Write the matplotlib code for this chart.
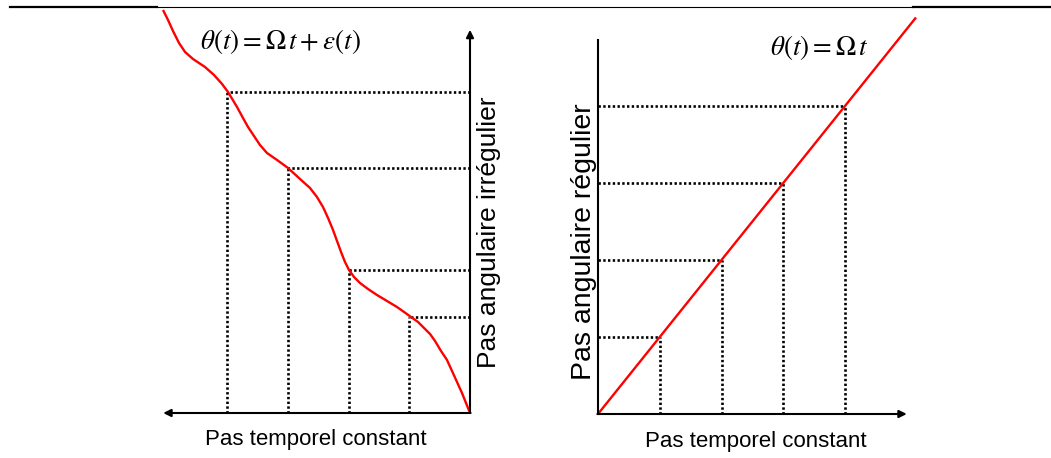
import numpy as np
import matplotlib.pyplot as plt
from matplotlib.lines import Line2D

W, H = 1051, 458

# courbe irreguliere (gauche) : pas temporel t, angle theta
t_irr = [0.0, 0.066, 0.132, 0.214, 0.296, 0.379, 0.477, 0.576, 0.658, 0.757,
         0.856, 0.971, 1.086, 1.202, 1.366, 1.531, 1.679, 1.811, 1.909, 1.992,
         2.058, 2.123, 2.189, 2.255, 2.337, 2.420, 2.519, 2.634, 2.798, 2.996,
         3.177, 3.342, 3.457, 3.556, 3.654, 3.737, 3.835, 3.934, 3.984, 4.082,
         4.214, 4.362, 4.560, 4.691, 4.790, 4.889, 4.971, 5.053]
theta_irr = [0.0, 0.125, 0.25, 0.388, 0.525, 0.663, 0.775, 0.90, 0.988, 1.063,
             1.138, 1.20, 1.263, 1.325, 1.40, 1.475, 1.55, 1.625, 1.70, 1.788,
             1.888, 2.013, 2.15, 2.288, 2.438, 2.575, 2.70, 2.813, 2.925, 3.063,
             3.163, 3.25, 3.35, 3.463, 3.575, 3.688, 3.825, 3.95, 4.013, 4.113,
             4.225, 4.325, 4.425, 4.513, 4.625, 4.775, 4.913, 5.038]
# points d'echantillonnage (gauche)
t_pts_irr = [1, 2, 3, 4]
theta_pts_irr = [1.20, 1.79, 3.06, 4.01]

# courbe reguliere (droite)
t_reg = [0.0, 5.15]
theta_reg = [0.0, 5.15]
t_pts_reg = [1, 2, 3, 4]
theta_pts_reg = [1, 2, 3, 4]

fig = plt.figure(figsize=(W / 100, H / 100), dpi=100)


def make_axes(px0, px1, ox, oy, sx, sy, flip=False):
    # axe place en pixels : origine (ox, oy), sx/sy pixels par unite
    ax = fig.add_axes([px0 / W, 0, (px1 - px0) / W, 1])
    ax.patch.set_alpha(0)
    ax.axis('off')
    if flip:
        ax.set_xlim((ox - px0) / sx, (ox - px1) / sx)
    else:
        ax.set_xlim((px0 - ox) / sx, (px1 - ox) / sx)
    ax.set_ylim((oy - H) / sy, oy / sy)
    return ax


dot = dict(color='black', lw=1.9, linestyle=(0, (0.9, 0.9)), dash_capstyle='butt')
arrow = dict(arrowstyle='-|>', lw=1.5, color='black', mutation_scale=11,
             shrinkA=0, shrinkB=0)

# ---- gauche
ax1 = make_axes(140, 530, 470, 413, 60.75, 80, flip=True)
for t, th in zip(t_pts_irr, theta_pts_irr):
    ax1.plot([t, t], [0, th], **dot)
    ax1.plot([0, t], [th, th], **dot)
ax1.plot(t_irr, theta_irr, color='red', lw=1.7, solid_capstyle='butt',
         solid_joinstyle='round')
ax1.annotate('', xy=(0, 4.79), xytext=(0, 0), arrowprops=arrow)
ax1.annotate('', xy=(5.05, 0), xytext=(-0.01, 0), arrowprops=arrow)

# ---- droite
ax2 = make_axes(540, 1000, 598, 414, 61.75, 77)
for t, th in zip(t_pts_reg, theta_pts_reg):
    ax2.plot([t, t], [0, th], **dot)
    ax2.plot([0, t], [th, th], **dot)
ax2.plot(t_reg, theta_reg, color='red', lw=1.7, solid_capstyle='butt')
ax2.plot([0, 0], [0, 4.86], color='black', lw=1.5)
ax2.annotate('', xy=(5.0, 0), xytext=(-0.01, 0), arrowprops=arrow)

# textes
lab = dict(family='Liberation Sans', color='black')
fig.text(316 / W, 1 - 440 / H, 'Pas temporel constant', ha='center', va='center',
         fontsize=16, **lab)
fig.text(756 / W, 1 - 442 / H, 'Pas temporel constant', ha='center', va='center',
         fontsize=16, **lab)
fig.text(489 / W, 1 - 232 / H, 'Pas angulaire irrégulier', ha='center', va='center',
         rotation=90, fontsize=19, **lab)
fig.text(584 / W, 1 - 242 / H, 'Pas angulaire régulier', ha='center', va='center',
         rotation=90, fontsize=20.5, **lab)

plt.rcParams['mathtext.fontset'] = 'stix'
fig.text(280 / W, 1 - 42 / H, r'$\theta(t) = \Omega\, t + \varepsilon(t)$',
         ha='center', va='center', fontsize=19.5)
fig.text(819 / W, 1 - 47 / H, r'$\theta(t) = \Omega\, t$',
         ha='center', va='center', fontsize=19.5)

# trait du haut
fig.add_artist(Line2D([10 / W, 157 / W], [1 - 7 / H] * 2, color='black', lw=1.6))
fig.add_artist(Line2D([157 / W, 913 / W], [1 - 7 / H] * 2, color='black', lw=0.8))
fig.add_artist(Line2D([913 / W, 1.0], [1 - 7 / H] * 2, color='black', lw=1.6))

fig.savefig('out.png', dpi=100)
